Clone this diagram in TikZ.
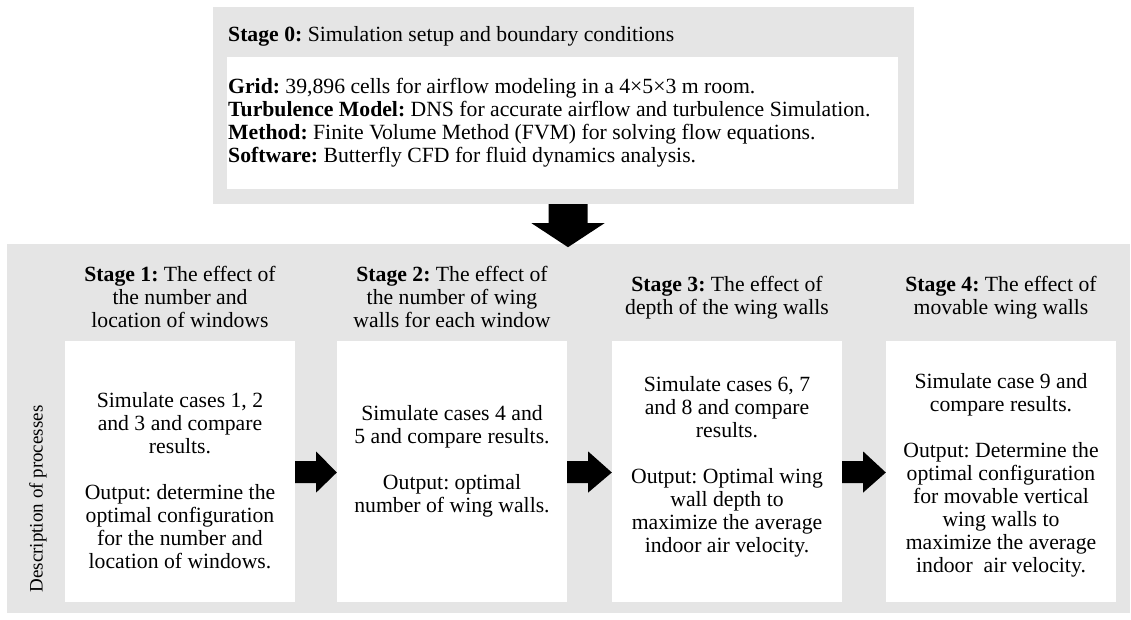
\documentclass[tikz,border=0pt]{standalone}
\usepackage{fontspec}
\setmainfont{Liberation Serif}
\usetikzlibrary{calc}
\definecolor{bggray}{RGB}{229,229,229}
\frenchspacing
\tikzset{
  panel/.style={fill=bggray, draw=none, inner sep=0pt},
  card/.style={fill=white, draw=none, inner sep=0pt, minimum width=230pt, minimum height=261pt},
  txt/.style={inner sep=0pt, font={\frenchspacing\fontsize{21.7}{23}\selectfont}},
  ctxt/.style={txt, align=center},
  blockarrow/.style={fill=black, draw=none}
}
\begin{document}
\begin{tikzpicture}[x=1pt,y=-1pt]
\useasboundingbox (0,0) rectangle (1131,620);
% top panel
\node[panel, minimum width=701pt, minimum height=197pt] (top) at (563.5,105.5) {};
\node[fill=white, inner sep=0pt, minimum width=671pt, minimum height=132pt] (topcard) at (562.5,123) {};
\node[txt, anchor=base west] (s0) at (228,42) {\textbf{Stage 0:} Simulation setup and boundary conditions};
\node[txt, align=left, anchor=west] (s0body) at (228,123) {\textbf{Grid:} 39,896 cells for airflow modeling in a 4×5×3 m room.\\
\textbf{Turbulence Model:} DNS for accurate airflow and turbulence Simulation.\\
\textbf{Method:} Finite Volume Method (FVM) for solving flow equations.\\
\textbf{Software:} Butterfly CFD for fluid dynamics analysis.};
% bottom panel
\node[panel, minimum width=1123pt, minimum height=369pt] (bottom) at (568.5,428.5) {};
% down arrow
\coordinate (dstart) at ($(top.south)+(4.5,0)$);
\fill[blockarrow] ($(dstart)+(-19.5,0)$) -- ++(39,0) -- ++(0,19) -- ++(17,0) -- ++(-36.5,24) -- ++(-36.5,-24) -- ++(17,0) -- cycle;
% cards
\node[card] (c1) at (180,471.5) {};
\node[card] (c2) at (452,471.5) {};
\node[card] (c3) at (727,471.5) {};
\node[card] (c4) at (1001,471.5) {};
% headers
\node[ctxt] (h1) at (180,297) {\textbf{Stage 1:} The effect of\\ the number and\\ location of windows};
\node[ctxt] (h2) at (452,297) {\textbf{Stage 2:} The effect of\\ the number of wing\\ walls for each window};
\node[ctxt] (h3) at (727,298) {\textbf{Stage 3:} The effect of\\ depth of the wing walls};
\node[ctxt] (h4) at (1001,298) {\textbf{Stage 4:} The effect of\\ movable wing walls};
% bodies
\node[ctxt] (t1) at (180,481) {Simulate cases 1, 2\\ and 3 and compare\\ results.\\[23pt] Output: determine the\\ optimal configuration\\ for the number and\\ location of windows.};
\node[ctxt] (t2) at (452,461) {Simulate cases 4 and\\ 5 and compare results.\\[23pt] Output: optimal\\ number of wing walls.};
\node[ctxt] (t3) at (727,467) {Simulate cases 6, 7\\ and 8 and compare\\ results.\\[23pt] Output: Optimal wing\\ wall depth to\\ maximize the average\\ indoor air velocity.};
\node[ctxt] (t4) at (1001,475) {Simulate case 9 and\\ compare results.\\[23pt] Output: Determine the\\ optimal configuration\\ for movable vertical\\ wing walls to\\ maximize the average\\ indoor\ \ air velocity.};
% side label
\node[inner sep=0pt, rotate=90, font={\fontsize{19}{22}\selectfont}] (side) at (38,499) {Description of processes};
% right arrows
\foreach \a/\b in {c1/c2, c2/c3, c3/c4}{
  \fill[blockarrow] ($(\a.east)+(0,-10.5)$) -- ++(21,0) -- ++(0,-9.5) -- ($(\b.west)+(0,1)$) -- ($(\a.east)+(21,21)$) -- ++(0,-9.5) -- ++(-21,0) -- cycle;
}
\end{tikzpicture}
\end{document}
